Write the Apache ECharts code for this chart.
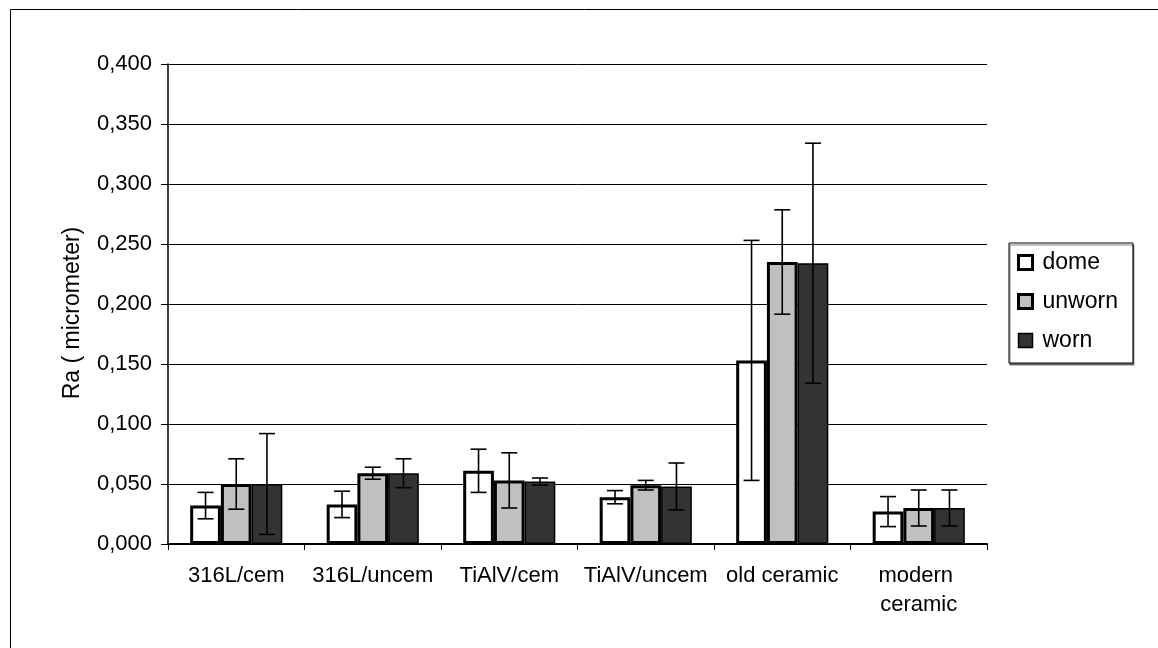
<!DOCTYPE html>
<html>
<head>
<meta charset="utf-8">
<script src="https://cdn.jsdelivr.net/npm/echarts@6/dist/echarts.min.js"></script>
<style>
  html, body { margin: 0; padding: 0; background: #fff; }
  #chart { width: 1158px; height: 648px; }
</style>
</head>
<body>
<div id="chart"></div>
<script>
// Surface roughness Ra per implant group
const categories = ['316L/cem', '316L/uncem', 'TiAlV/cem', 'TiAlV/uncem', 'old ceramic', 'modern ceramic'];
const seriesNames = ['dome', 'unworn', 'worn'];

const domeValues   = [0.032, 0.033, 0.061, 0.039, 0.153, 0.027];
const domeErrors   = [0.011, 0.011, 0.018, 0.0055, 0.100, 0.0125];
const unwornValues = [0.050, 0.059, 0.053, 0.049, 0.235, 0.030];
const unwornErrors = [0.021, 0.005, 0.023, 0.004, 0.0435, 0.015];
const wornValues   = [0.050, 0.059, 0.052, 0.048, 0.234, 0.030];
const wornErrors   = [0.042, 0.012, 0.003, 0.0195, 0.100, 0.015];

const yTickLabels = ['0,000', '0,050', '0,100', '0,150', '0,200', '0,250', '0,300', '0,350', '0,400'];
const yStep = 0.05;

const FONT = 'Liberation Sans, Arial, sans-serif';
const BAR_FRAC = 0.225;

const styles = [
  { color: '#ffffff', borderColor: '#000000', borderWidth: 3 },
  { color: '#c0c0c0', borderColor: '#000000', borderWidth: 3 },
  { color: '#333333', borderColor: '#000000', borderWidth: 1.5 }
];
const valueSets = [domeValues, unwornValues, wornValues];
const errorSets = [domeErrors, unwornErrors, wornErrors];

function errorBarRenderer(slot) {
  return function (params, api) {
    const i = api.value(0);
    const v = api.value(1);
    const e = api.value(2);
    const band = api.size([1, 0])[0];
    const w = band * BAR_FRAC;
    const cx = api.coord([i, v])[0] + (slot - 1) * w;
    const yTop = api.coord([i, v + e])[1];
    const yBot = api.coord([i, v - e])[1];
    const half = 8;
    const st = { stroke: '#000', lineWidth: 1.6 };
    return {
      type: 'group',
      children: [
        { type: 'line', shape: { x1: cx, y1: yTop, x2: cx, y2: yBot }, style: st },
        { type: 'line', shape: { x1: cx - half, y1: yTop, x2: cx + half, y2: yTop }, style: st },
        { type: 'line', shape: { x1: cx - half, y1: yBot, x2: cx + half, y2: yBot }, style: st }
      ]
    };
  };
}

const barSeries = seriesNames.map((name, k) => ({
  name: name,
  type: 'bar',
  data: valueSets[k],
  barWidth: (BAR_FRAC * 100) + '%',
  barGap: '0%',
  itemStyle: styles[k],
  z: 2
}));

const errSeries = seriesNames.map((name, k) => ({
  name: name + ' error',
  type: 'custom',
  renderItem: errorBarRenderer(k),
  data: valueSets[k].map((v, i) => [i, v, errorSets[k][i]]),
  encode: { x: 0, y: 1 },
  z: 5,
  silent: true
}));

const chart = echarts.init(document.getElementById('chart'), null, { renderer: 'canvas' });
chart.setOption({
  animation: false,
  backgroundColor: '#ffffff',
  textStyle: { fontFamily: FONT, color: '#000' },
  graphic: [{
    type: 'rect',
    left: 8, top: 7,
    shape: { width: 1200, height: 700 },
    style: { fill: 'none', stroke: '#000', lineWidth: 1 },
    z: -10
  }],
  grid: { left: 168, right: 171, top: 64, bottom: 104 },
  legend: {
    orient: 'vertical',
    left: 1009,
    top: 243,
    padding: [8, 15, 11, 8],
    itemGap: 16,
    itemWidth: 14,
    itemHeight: 14,
    icon: 'rect',
    backgroundColor: '#fff',
    borderColor: '#000',
    borderWidth: 1,
    shadowColor: 'rgba(0,0,0,0.5)',
    shadowOffsetX: 1,
    shadowOffsetY: 2,
    textStyle: { fontFamily: FONT, fontSize: 23, color: '#000', padding: [0, 0, 0, 5] },
    data: seriesNames.map((n, k) => ({ name: n, itemStyle: styles[k] }))
  },
  xAxis: {
    type: 'category',
    data: categories,
    axisLine: { lineStyle: { color: '#000', width: 2 } },
    axisTick: { show: true, length: 6, lineStyle: { color: '#000', width: 1 } },
    axisLabel: {
      interval: 0,
      margin: 17,
      fontFamily: FONT,
      fontSize: 22,
      color: '#000',
      lineHeight: 29,
      width: 132,
      overflow: 'break'
    },
    splitLine: { show: false }
  },
  yAxis: {
    type: 'value',
    min: 0,
    max: 0.4,
    interval: yStep,
    name: 'Ra ( micrometer)',
    nameLocation: 'middle',
    nameGap: 84,
    nameTextStyle: { fontFamily: FONT, fontSize: 23, color: '#000', padding: [0, 18, 0, 0] },
    axisLine: { show: true, lineStyle: { color: '#000', width: 1.5 } },
    axisTick: { show: true, length: 7, lineStyle: { color: '#000', width: 1 } },
    axisLabel: {
      margin: 16,
      fontFamily: FONT,
      fontSize: 22,
      color: '#000',
      formatter: (v) => yTickLabels[Math.round(v / yStep)]
    },
    splitLine: { show: true, lineStyle: { color: '#000', width: 1 } }
  },
  series: barSeries.concat(errSeries)
});
</script>
</body>
</html>
